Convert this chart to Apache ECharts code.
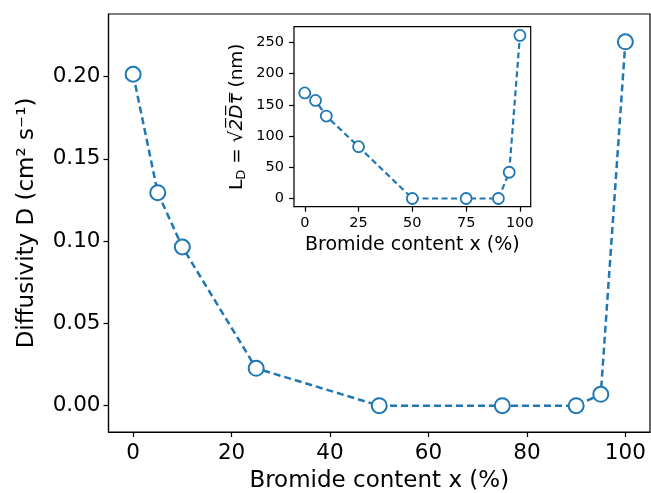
<!DOCTYPE html>
<html>
<head>
<meta charset="utf-8">
<script src="https://cdn.jsdelivr.net/npm/echarts@6/dist/echarts.min.js"></script>
<style>
  html, body { margin: 0; padding: 0; background: #fff; }
  #chart { width: 651px; height: 493px; }
</style>
</head>
<body>
<div id="chart"></div>
<script>
// main plot: diffusivity vs bromide content
var bromide = [0, 5, 10, 25, 50, 75, 90, 95, 100];
var diffusivity = [0.2014, 0.1294, 0.0964, 0.0227, 0, 0, 0, 0.0069, 0.2211];
var mainXTicks = [0, 20, 40, 60, 80, 100];
var mainYTicks = [0, 0.05, 0.10, 0.15, 0.20];

// inset: diffusion length
var diffLength = [169, 157, 132, 83, 0, 0, 0, 42, 261];
var insetXTicks = [0, 25, 50, 75, 100];
var insetYTicks = [0, 50, 100, 150, 200, 250];

var blue = '#1f77b4';
var font = 'DejaVu Sans';

function pairs(xs, ys) {
    return xs.map(function (x, i) { return [x, ys[i]]; });
}

var chart = echarts.init(document.getElementById('chart'), null, {renderer: 'canvas'});

function axisCommon(fs, ticks) {
    return {
        axisLine: {show: true, onZero: false, lineStyle: {color: '#000', width: 1.2}},
        axisTick: {show: true, inside: false, length: 5, customValues: ticks, lineStyle: {color: '#000', width: 1.2}},
        axisLabel: {customValues: ticks, color: '#000', fontFamily: font, fontSize: fs, margin: 9},
        splitLine: {show: false},
        nameTextStyle: {color: '#000', fontFamily: font}
    };
}

var mx = axisCommon(21.5, mainXTicks);
mx.type = 'value'; mx.gridIndex = 0; mx.min = -5; mx.max = 105;
mx.axisLabel.margin = 10;
mx.name = 'Bromide content x (%)'; mx.nameLocation = 'middle'; mx.nameGap = 38;
mx.nameTextStyle.fontSize = 23;

var my = axisCommon(21.5, mainYTicks);
my.type = 'value'; my.gridIndex = 0; my.min = -0.016; my.max = 0.238;
my.axisLabel.formatter = function (v) { return v.toFixed(2); };
my.axisLabel.margin = 8;
my.name = 'Diffusivity D (cm\u00b2 s\u207b\u00b9)'; my.nameLocation = 'middle'; my.nameGap = 70;
my.nameTextStyle.fontSize = 23;

var ix = axisCommon(14.5, insetXTicks);
ix.type = 'value'; ix.gridIndex = 1; ix.min = -5; ix.max = 105;
ix.axisTick.length = 5; ix.axisLabel.margin = 9;
ix.name = 'Bromide content x (%)'; ix.nameLocation = 'middle'; ix.nameGap = 29;
ix.nameTextStyle.fontSize = 19;

var iy = axisCommon(14.5, insetYTicks);
iy.type = 'value'; iy.gridIndex = 1; iy.min = -13.1; iy.max = 275;
iy.axisTick.length = 5; iy.axisLabel.margin = 10;
iy.name = '{n|L}{sub|D}{n| = \u221a}{ov|2\u0305D\u0305\u03c4\u0305}{n| (nm)}';
iy.nameLocation = 'middle'; iy.nameGap = 46;
iy.nameTextStyle.fontSize = 18.5;
iy.nameTextStyle.rich = {
    n: {fontSize: 18.5, fontFamily: font, color: '#000'},
    sub: {fontSize: 13, fontFamily: font, color: '#000', verticalAlign: 'bottom', padding: [9, 0, 0, 0]},
    ov: {fontSize: 18.5, fontFamily: font, color: '#000', fontStyle: 'italic'}
};

var option = {
    backgroundColor: '#fff',
    animation: false,
    grid: [
        {left: 108.5, top: 14, right: 1, bottom: 61, outerBoundsMode: 'none', containLabel: false,
         show: true, borderColor: '#000', borderWidth: 1.2, backgroundColor: 'transparent'},
        {left: 294, top: 26.7, width: 236.7, height: 180, outerBoundsMode: 'none', containLabel: false,
         show: true, borderColor: '#000', borderWidth: 1.2, backgroundColor: '#fff', z: 5}
    ],
    xAxis: [mx, ix],
    yAxis: [my, iy],
    series: [
        {
            type: 'line', xAxisIndex: 0, yAxisIndex: 0,
            data: pairs(bromide, diffusivity),
            symbol: 'circle', symbolSize: 15,
            lineStyle: {color: blue, width: 2.5, type: [7, 4]},
            itemStyle: {color: '#fff', borderColor: blue, borderWidth: 2}
        },
        {
            type: 'line', xAxisIndex: 1, yAxisIndex: 1, z: 6,
            data: pairs(bromide, diffLength),
            symbol: 'circle', symbolSize: 11,
            lineStyle: {color: blue, width: 2.2, type: [6, 3.5]},
            itemStyle: {color: '#fff', borderColor: blue, borderWidth: 1.8}
        }
    ]
};

chart.setOption(option);
</script>
</body>
</html>
